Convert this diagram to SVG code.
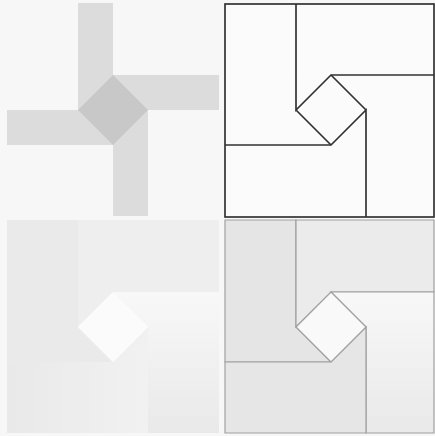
<svg xmlns="http://www.w3.org/2000/svg" width="435" height="436" viewBox="0 0 435 436">
  <defs>
    <linearGradient id="gC" x1="0" y1="0" x2="0" y2="1">
      <stop offset="0" stop-color="#f8f8f8"/>
      <stop offset="1" stop-color="#e9e9e9"/>
    </linearGradient>
    <linearGradient id="gD" x1="0" y1="0" x2="1" y2="0">
      <stop offset="0" stop-color="#e9e9e9"/>
      <stop offset="1" stop-color="#f1f1f1"/>
    </linearGradient>
    <linearGradient id="gC2" x1="0" y1="0" x2="0" y2="1">
      <stop offset="0" stop-color="#f8f8f8"/>
      <stop offset="1" stop-color="#e9e9e9"/>
    </linearGradient>
  </defs>
  <style>
    .arm { fill: #dcdcdc; }
    .core { fill: #c8c8c8; }
    .ink { fill: none; stroke: #333333; stroke-width: 1.7; stroke-linejoin: miter; }
    .soft { stroke: #a0a0a0; stroke-width: 1.2; stroke-linejoin: miter; }
  </style>
  <rect width="435" height="436" fill="#f7f7f7"/>

  <!-- top-left: pinwheel cross -->
  <g id="cross">
    <rect class="arm" x="78" y="3" width="35" height="107"/>
    <rect class="arm" x="113" y="75" width="106" height="35"/>
    <rect class="arm" x="7" y="110" width="106" height="35"/>
    <rect class="arm" x="113" y="110" width="35" height="106"/>
    <polygon class="core" points="78,110 113,75 148,110 113,145"/>
  </g>

  <!-- top-right: outline drawing -->
  <g id="outline">
    <rect x="225" y="4" width="209" height="213" fill="#fbfbfb"/>
    <rect class="ink" x="225" y="4" width="209" height="213"/>
    <polyline class="ink" points="296,4 296,110 331,75 434,75"/>
    <polyline class="ink" points="225,145 331,145 366,110 366,217"/>
    <polyline class="ink" points="296,110 331,145"/>
    <polyline class="ink" points="331,75 366,110"/>
  </g>

  <!-- bottom-left: shaded pieces -->
  <g id="shaded">
    <polygon fill="#eaeaea" points="7,220 78,220 78,327 113,362 7,362"/>
    <polygon fill="#eeeeee" points="78,220 219,220 219,292 113,292 78,327"/>
    <polygon fill="url(#gC)" points="219,292 219,433 148,433 148,327 113,292"/>
    <polygon fill="url(#gD)" points="7,362 113,362 148,327 148,433 7,433"/>
    <polygon fill="#fbfbfb" points="78,327 113,292 148,327 113,362"/>
  </g>

  <!-- bottom-right: shaded pieces with outlines -->
  <g id="shaded-outline">
    <polygon class="soft" fill="#e5e5e5" points="225,220 296,220 296,327 331,362 225,362"/>
    <polygon class="soft" fill="#ebebeb" points="296,220 434,220 434,292 331,292 296,327"/>
    <polygon class="soft" fill="url(#gC2)" points="434,292 434,433 366,433 366,327 331,292"/>
    <polygon class="soft" fill="#e6e6e6" points="225,362 331,362 366,327 366,433 225,433"/>
    <polygon class="soft" fill="#f9f9f9" points="296,327 331,292 366,327 331,362"/>
  </g>
</svg>
